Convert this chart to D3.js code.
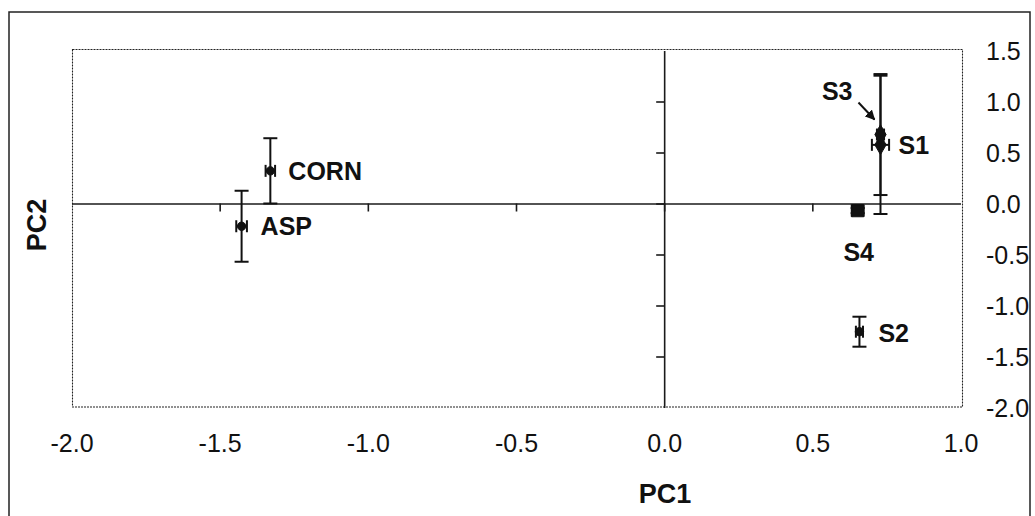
<!DOCTYPE html>
<html>
<head>
<meta charset="utf-8">
<script src="https://cdn.jsdelivr.net/npm/d3@7"></script>
<style>
  html, body { margin: 0; padding: 0; background: #fff; }
  svg { display: block; font-family: "Liberation Sans", Arial, sans-serif; }
</style>
</head>
<body>
<svg id="chart" width="1035" height="516"></svg>
<script>
// Sample scores on the first two principal components, with error bars
const samples = ["CORN", "ASP", "S1", "S3", "S4", "S2"];
const pc1 = [-1.329, -1.426, 0.730, 0.730, 0.653, 0.659];
const pc2 = [0.320, -0.223, 0.575, 0.676, -0.070, -1.257];
const pc1Err = [0.016, 0.018, 0.029, 0.012, 0.020, 0.012];
const pc2Err = [0.320, 0.348, 0.678, 0.593, 0.025, 0.147];
const markerShape = ["circle", "circle", "diamond", "diamond", "square", "circle"];

const xTickValues = [-2.0, -1.5, -1.0, -0.5, 0.0, 0.5, 1.0];
const yTickValues = [1.5, 1.0, 0.5, 0.0, -0.5, -1.0, -1.5, -2.0];
const xTitle = "PC1";
const yTitle = "PC2";

// label placement relative to each point (px)
const labelLayout = {
  CORN: { dx: 18, dy: 9, anchor: "start" },
  ASP:  { dx: 19, dy: 9, anchor: "start" },
  S1:   { dx: 18, dy: 9, anchor: "start" },
  S3:   { dx: -28, dy: -35, anchor: "end" },
  S4:   { dx: 1, dy: 50, anchor: "middle" },
  S2:   { dx: 19, dy: 10, anchor: "start" }
};

const points = samples.map((name, i) => ({
  name, x: pc1[i], y: pc2[i], ex: pc1Err[i], ey: pc2Err[i], shape: markerShape[i]
}));

const svg = d3.select("#chart");
const ink = "#111";
const fmt = d => d.toFixed(1);

const plot = { left: 71.5, right: 960.5, top: 50.5, bottom: 407.5 };
const x = d3.scaleLinear().domain([-2, 1]).range([plot.left, plot.right]);
const y = d3.scaleLinear().domain([-2, 1.5]).range([plot.bottom, plot.top]);

// outer frame
svg.append("rect")
  .attr("x", 9).attr("y", 12).attr("width", 1021).attr("height", 530)
  .attr("fill", "none").attr("stroke", "#222").attr("stroke-width", 1.5);

// plot area border (dotted)
svg.append("rect")
  .attr("x", plot.left + 1).attr("y", plot.top - 1)
  .attr("width", plot.right - plot.left + 1).attr("height", plot.bottom - plot.top + 0.5)
  .attr("fill", "none").attr("stroke", "#222").attr("stroke-width", 1.1)
  .attr("stroke-dasharray", "2,1");

// axes crossing at the origin
const innerX = xTickValues.filter(v => v > -2 && v < 1);
const innerY = yTickValues.filter(v => v > -2 && v < 1.5);

const gx = svg.append("g")
  .attr("transform", `translate(0,${y(0)})`)
  .call(d3.axisBottom(x).tickValues(innerX).tickSize(8).tickSizeOuter(0).tickFormat(""));
const gy = svg.append("g")
  .attr("transform", `translate(${x(0)},0)`)
  .call(d3.axisLeft(y).tickValues(innerY).tickSize(8).tickSizeOuter(0).tickFormat(""));
[gx, gy].forEach(g => {
  g.selectAll("path.domain").attr("stroke", "#1a1a1a").attr("stroke-width", 1.6);
  g.selectAll(".tick line").attr("stroke", "#1a1a1a").attr("stroke-width", 1.6);
});

// tick labels: PC1 along the bottom, PC2 down the right side
const lx = svg.append("g")
  .attr("transform", "translate(0,443)")
  .call(d3.axisBottom(x).tickValues(xTickValues).tickSize(0).tickPadding(0).tickFormat(fmt));
lx.select("path.domain").remove();
lx.selectAll("text").attr("font-size", 25).attr("fill", ink)
  .attr("font-family", "'Liberation Sans', Arial, sans-serif").attr("dy", "0.71em").attr("y", -9);

const ly = svg.append("g")
  .attr("transform", "translate(986,0)")
  .call(d3.axisRight(y).tickValues(yTickValues).tickSize(0).tickPadding(0).tickFormat(fmt));
ly.select("path.domain").remove();
ly.selectAll("text").attr("font-size", 25).attr("fill", ink)
  .attr("font-family", "'Liberation Sans', Arial, sans-serif").attr("dy", "0.36em");

// axis titles
svg.append("text")
  .attr("x", 665).attr("y", 503)
  .attr("text-anchor", "middle").attr("font-size", 27).attr("font-weight", "bold")
  .attr("fill", ink).text(xTitle);
svg.append("text")
  .attr("transform", "translate(46,225) rotate(-90)")
  .attr("text-anchor", "middle").attr("font-size", 27).attr("font-weight", "bold")
  .attr("fill", ink).text(yTitle);

// error bars
const eb = svg.append("g").attr("stroke", ink).attr("stroke-width", 2).attr("fill", "none");
points.forEach(p => {
  const cx = x(p.x), cy = y(p.y);
  const y1 = y(p.y + p.ey), y2 = y(p.y - p.ey);
  const x1 = x(p.x - p.ex), x2 = x(p.x + p.ex);
  const capV = 7, capH = 6;
  eb.append("line").attr("x1", cx).attr("x2", cx).attr("y1", y1).attr("y2", y2);
  eb.append("line").attr("x1", cx - capV).attr("x2", cx + capV).attr("y1", y1).attr("y2", y1);
  eb.append("line").attr("x1", cx - capV).attr("x2", cx + capV).attr("y1", y2).attr("y2", y2);
  eb.append("line").attr("x1", x1).attr("x2", x2).attr("y1", cy).attr("y2", cy);
  eb.append("line").attr("x1", x1).attr("x2", x1).attr("y1", cy - capH).attr("y2", cy + capH);
  eb.append("line").attr("x1", x2).attr("x2", x2).attr("y1", cy - capH).attr("y2", cy + capH);
});

// markers
const symbolType = { circle: d3.symbolCircle, diamond: d3.symbolDiamond, square: d3.symbolSquare };
const symbolSize = { circle: 55, diamond: 110, square: 150 };
svg.append("g").selectAll("path")
  .data(points)
  .join("path")
  .attr("transform", d => `translate(${x(d.x)},${y(d.y)})`)
  .attr("d", d => d3.symbol(symbolType[d.shape], symbolSize[d.shape])())
  .attr("fill", ink).attr("stroke", ink).attr("stroke-width", 1);

// point labels
svg.append("g").selectAll("text")
  .data(points)
  .join("text")
  .attr("x", d => x(d.x) + labelLayout[d.name].dx)
  .attr("y", d => y(d.y) + labelLayout[d.name].dy)
  .attr("text-anchor", d => labelLayout[d.name].anchor)
  .attr("font-size", 25).attr("font-weight", "bold").attr("fill", ink)
  .text(d => d.name);

// arrow from the S3 label to its point
svg.append("defs").append("marker")
  .attr("id", "arrowhead").attr("viewBox", "0 0 10 10")
  .attr("refX", 9).attr("refY", 5)
  .attr("markerWidth", 5).attr("markerHeight", 5)
  .attr("orient", "auto")
  .append("path").attr("d", "M0,0 L10,5 L0,10 Z").attr("fill", ink);
const s3 = points.find(p => p.name === "S3");
svg.append("line")
  .attr("x1", x(s3.x) - 22).attr("y1", y(s3.y) - 32)
  .attr("x2", x(s3.x) - 6).attr("y2", y(s3.y) - 15)
  .attr("stroke", ink).attr("stroke-width", 2)
  .attr("marker-end", "url(#arrowhead)");
</script>
</body>
</html>
